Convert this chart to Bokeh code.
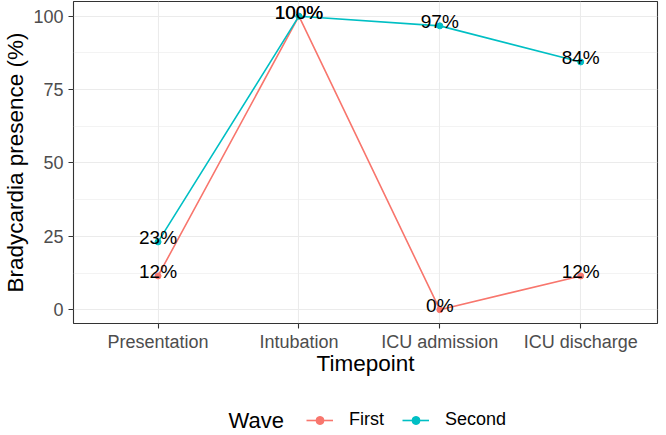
from bokeh.plotting import figure
from bokeh.models import (Range1d, FixedTicker, Legend, LegendItem, Label,
                          ColumnDataSource)
from bokeh.layouts import column
from bokeh.core.properties import value
from bokeh.embed import file_html
from bokeh.resources import INLINE

# ---- data ----
timepoints = ["Presentation", "Intubation", "ICU admission", "ICU discharge"]
first_wave = [11.5, 100.0, 0.0, 11.5]
second_wave = [23.1, 100.0, 96.7, 84.4]
first_labels = ["12%", "100%", "0%", "12%"]
second_labels = ["23%", "100%", "97%", "84%"]
y_ticks = [0, 25, 50, 75, 100]
y_minor = [12.5, 37.5, 62.5, 87.5]
series_names = ["First", "Second"]
legend_title = "Wave"
colors = ["#F8766D", "#00BFC4"]

FONT = "Liberation Sans"
W = 660
H_MAIN = 390
H_LEG = 43
BORDER_L = 73
BORDER_R = 3
xs = list(range(1, len(timepoints) + 1))

p = figure(width=W, height=H_MAIN, output_backend="svg", toolbar_location=None,
           x_range=Range1d(0.4, 4.545), y_range=Range1d(-4.7, 105),
           min_border_left=BORDER_L, min_border_right=BORDER_R, min_border_top=1,
           min_border_bottom=67)
p.background_fill_color = "white"
p.border_fill_color = "white"
p.outline_line_color = "#333333"
p.outline_line_width = 1.1

# axes
p.xaxis.ticker = FixedTicker(ticks=xs, minor_ticks=[])
p.xaxis.major_label_overrides = {i: t for i, t in zip(xs, timepoints)}
p.yaxis.ticker = FixedTicker(ticks=y_ticks, minor_ticks=y_minor)
for ax in (p.xaxis[0], p.yaxis[0]):
    ax.axis_line_color = None
    ax.major_tick_line_color = "#333333"
    ax.major_tick_line_width = 1.1
    ax.major_tick_out = 5
    ax.major_tick_in = 0
    ax.minor_tick_line_color = None
    ax.major_label_text_color = "#4D4D4D"
    ax.major_label_text_font = FONT
    ax.major_label_text_font_size = "18px"
    ax.axis_label_text_font = FONT
    ax.axis_label_text_font_size = "22.5px"
    ax.axis_label_text_font_style = "normal"
    ax.axis_label_text_color = "black"
p.xaxis.axis_label = "Timepoint"
p.yaxis.axis_label = "Bradycardia presence (%)"
p.xaxis.major_label_standoff = 3
p.xaxis.axis_label_standoff = -4
p.yaxis.major_label_standoff = 5
p.yaxis.axis_label_standoff = 2

# grid
p.xgrid.grid_line_color = "#EBEBEB"
p.xgrid.grid_line_width = 1.1
p.ygrid.grid_line_color = "#EBEBEB"
p.ygrid.grid_line_width = 1.1
p.ygrid.minor_grid_line_color = "#EBEBEB"
p.ygrid.minor_grid_line_width = 0.6

# series
for vals, col in zip([first_wave, second_wave], colors):
    src = ColumnDataSource(dict(x=xs, y=vals))
    p.line("x", "y", source=src, line_color=col, line_width=1.6)
    p.scatter("x", "y", source=src, fill_color=col, line_color=col, size=6)

for vals, labs in zip([first_wave, second_wave], [first_labels, second_labels]):
    src = ColumnDataSource(dict(x=xs, y=vals, t=labs))
    p.text("x", "y", text="t", source=src, text_align="center",
           text_baseline="middle", y_offset=-4, text_color="black",
           text_font=value(FONT), text_font_size="19px")

# legend strip (separate figure so nothing is clipped); it re-draws the series
# outside its visible y range only so that the legend keys have glyphs
p2 = figure(width=W, height=H_LEG, output_backend="svg", toolbar_location=None,
            x_range=Range1d(0.4, 4.545), y_range=Range1d(1000, 1043),
            x_axis_type=None, y_axis_type=None,
            min_border_left=BORDER_L, min_border_right=BORDER_R, min_border_top=0,
            min_border_bottom=0)
p2.outline_line_color = None
p2.xgrid.visible = False
p2.ygrid.visible = False
p2.background_fill_color = "white"
p2.border_fill_color = "white"

leg_renderers = []
for vals, col in zip([first_wave, second_wave], colors):
    src = ColumnDataSource(dict(x=xs, y=vals))
    rl = p2.line("x", "y", source=src, line_color=col, line_width=1.6)
    rp = p2.scatter("x", "y", source=src, fill_color=col, line_color=col, size=6)
    leg_renderers.append([rl, rp])

legend = Legend(items=[LegendItem(label=n, renderers=r) for n, r in zip(series_names, leg_renderers)],
                orientation="horizontal", location=(306 - BORDER_L, 3),
                glyph_width=27, glyph_height=20, label_height=20, label_width=20,
                label_standoff=16, spacing=18, padding=0, margin=0,
                border_line_color=None, background_fill_alpha=0,
                label_text_font=FONT, label_text_font_size="18px",
                label_text_color="black")
p2.add_layout(legend, "center")
p2.add_layout(Label(x=228 - BORDER_L, y=13, x_units="screen", y_units="screen",
                    text=legend_title, text_align="left", text_baseline="middle",
                    text_font=FONT, text_font_size="22px", text_color="black"))

layout = column(p, p2, spacing=0)
open("out.html", "w").write(file_html(layout, INLINE))
